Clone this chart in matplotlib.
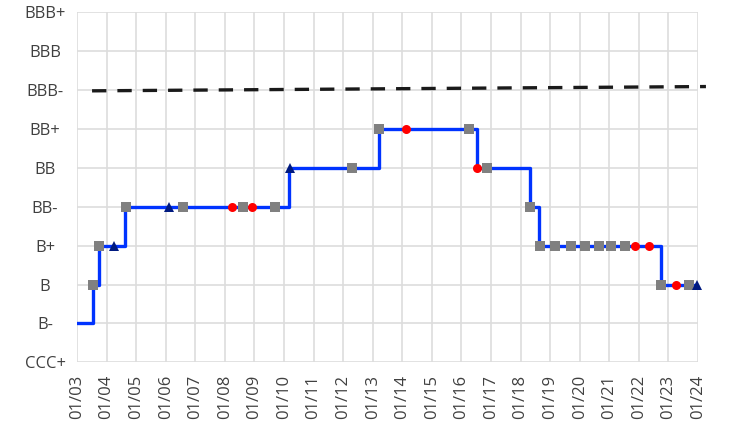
import numpy as np
import matplotlib.pyplot as plt

# rating scale, lowest to highest
rating_labels = ['CCC+', 'B-', 'B', 'B+', 'BB-', 'BB', 'BB+', 'BBB-', 'BBB', 'BBB+']

# rating history (decimal years, step changes)
step_dates = [2003.0, 2003.54, 2003.74, 2004.62, 2010.17, 2013.21,
              2016.53, 2018.32, 2018.62, 2022.75, 2024.0]
step_levels = [1, 2, 3, 4, 5, 6, 5, 4, 3, 2, 2]

# agency actions
sq_dates = [2003.54, 2003.74, 2004.66, 2006.58, 2008.61, 2009.70, 2012.30,
            2013.21, 2016.26, 2016.87, 2018.32, 2018.66, 2019.17, 2019.71,
            2020.18, 2020.65, 2021.06, 2021.53, 2022.75, 2023.70]
sq_levels = [2, 3, 4, 4, 4, 4, 5, 6, 6, 5, 4, 3, 3, 3, 3, 3, 3, 3, 2, 2]

dot_dates = [2008.24, 2008.92, 2014.13, 2016.53, 2021.87, 2022.34, 2023.26]
dot_levels = [4, 4, 6, 5, 3, 3, 2]

tri_dates = [2004.25, 2006.11, 2010.20, 2023.97]
tri_levels = [3, 4, 5, 2]

# investment grade threshold line
ig_dates = [2003.51, 2024.27]
ig_levels = [6.98, 7.09]

years = list(range(2003, 2025))
year_labels = ['01/%02d' % (y % 100) for y in years]

plt.rcParams['font.family'] = ['Open Sans', 'DejaVu Sans']

fig = plt.figure(figsize=(7.31, 4.22), dpi=100)
ax = fig.add_axes([0.1053, 0.1415, 0.8495, 0.8294])

ax.plot(ig_dates, ig_levels, color='#1a1a1a', lw=2.4,
        linestyle=(0, (4.3, 3.3)), clip_on=False, zorder=2)
ax.step(step_dates, step_levels, where='post', color='#0033ff', lw=2.4,
        zorder=3, solid_joinstyle='round')
ax.plot(sq_dates, sq_levels, 's', color='#808080', ms=6.5, mew=0,
        zorder=4, clip_on=False)
ax.plot(dot_dates, dot_levels, 'o', color='#ff0000', ms=6.5, mew=0,
        zorder=4, clip_on=False)
ax.plot(tri_dates, tri_levels, '^', color='#001a80', ms=7.5, mew=0,
        zorder=5, clip_on=False)

ax.set_xlim(2003, 2024)
ax.set_ylim(0, 9)
ax.set_xticks(years)
ax.set_xticklabels(year_labels, rotation=90)
ax.set_yticks(range(len(rating_labels)))
ax.set_yticklabels(rating_labels, ha='center')
ax.tick_params(length=0, labelsize=12, labelcolor='#404040')
ax.tick_params(axis='y', pad=23)
ax.tick_params(axis='x', pad=9)

ax.grid(True, color='#dddddd', lw=1.2)
ax.set_axisbelow(True)
for s in ax.spines.values():
    s.set_visible(False)

fig.savefig('out.png', dpi=100)
